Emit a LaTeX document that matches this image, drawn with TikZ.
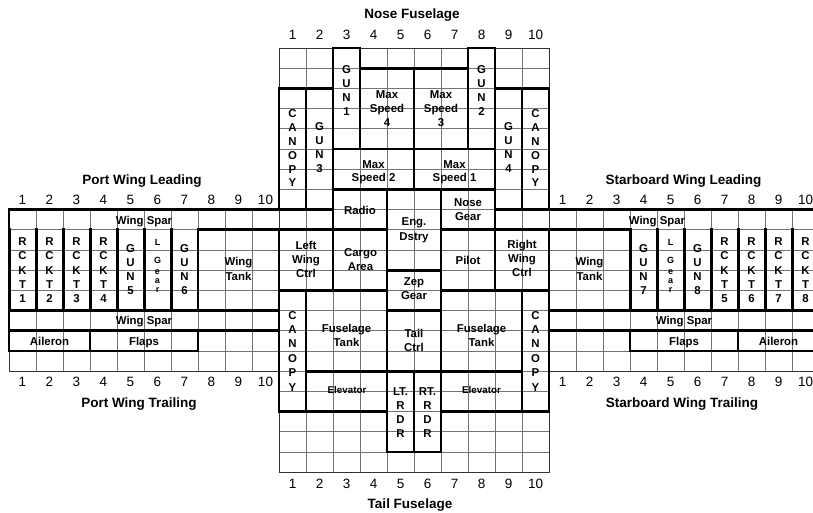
\documentclass[tikz,border=0pt]{standalone}
\usepackage{fontspec}
\setmainfont{Liberation Sans}
\newcommand\tbox[5]{\draw[thickbox] ({#1+27*#2},{48+20.2*#3}) rectangle ({#1+27*#4},{48+20.2*#5});}
\newcommand\vstk[5]{\foreach \ltr [count=\n from 0] in {#5} {\node[#1] at (#2,{#3+\n*#4}) {\ltr};}}
\begin{document}
\begin{tikzpicture}[x=1pt,y=-1pt,
  gridln/.style={draw=black!55,line width=0.9pt},
  edgeln/.style={draw=black!80,line width=0.9pt},
  thickbox/.style={draw=black,line width=2.8pt},
  lbl/.style={font=\fontsize{11.4}{13}\selectfont\bfseries,inner sep=0pt,text height=8.2pt,text depth=0pt},
  small/.style={font=\fontsize{9}{11}\selectfont\bfseries,inner sep=0pt,text height=6.5pt,text depth=0pt},
  elev/.style={font=\fontsize{9.8}{12}\selectfont\bfseries,inner sep=0pt,text height=7pt,text depth=0pt},
  num/.style={font=\fontsize{13.5}{16}\selectfont,inner sep=0pt,text height=9.7pt,text depth=0pt},
  ttl/.style={font=\fontsize{13.5}{16}\selectfont\bfseries,inner sep=0pt,text height=9.7pt,text depth=0pt}]
\useasboundingbox (0,0) rectangle (813,512);
\fill[white] (0,0) rectangle (813,512);
\clip (0,0) rectangle (813,512);
% ---------- thin grids ----------
\foreach \i in {0,...,10} {
  \draw[gridln] ({279+27*\i},48) -- ({279+27*\i},{48+21*20.2});
  \draw[gridln] ({9+27*\i},{48+8*20.2}) -- ({9+27*\i},{48+16*20.2});
  \draw[gridln] ({549+27*\i},{48+8*20.2}) -- ({549+27*\i},{48+16*20.2});
}
\foreach \k in {0,...,21} \draw[gridln] (279,{48+\k*20.2}) -- (549,{48+\k*20.2});
\foreach \k in {8,...,16} {
  \draw[gridln] (9,{48+\k*20.2}) -- (279,{48+\k*20.2});
  \draw[gridln] (549,{48+\k*20.2}) -- (819,{48+\k*20.2});
}
\draw[edgeln] (279,48) rectangle (549,{48+21*20.2});
\draw[edgeln] (9,{48+8*20.2}) rectangle (279,{48+16*20.2});
\draw[edgeln] (549,{48+8*20.2}) rectangle (819,{48+16*20.2});
% ---------- fuselage boxes ----------
\tbox{279}{2}{0}{3}{5}
\tbox{279}{3}{1}{5}{5}
\tbox{279}{5}{1}{7}{5}
\tbox{279}{7}{0}{8}{5}
\tbox{279}{0}{2}{1}{8}
\tbox{279}{1}{2}{2}{8}
\tbox{279}{8}{2}{9}{8}
\tbox{279}{9}{2}{10}{8}
\tbox{279}{2}{5}{5}{7}
\tbox{279}{5}{5}{8}{7}
\tbox{279}{2}{7}{4}{9}
\tbox{279}{4}{7}{6}{11}
\tbox{279}{6}{7}{8}{9}
\tbox{279}{0}{9}{2}{12}
\tbox{279}{2}{9}{4}{12}
\tbox{279}{6}{9}{8}{12}
\tbox{279}{8}{9}{10}{12}
\tbox{279}{4}{11}{6}{13}
\tbox{279}{0}{12}{1}{18}
\tbox{279}{1}{12}{4}{16}
\tbox{279}{4}{13}{6}{16}
\tbox{279}{6}{12}{9}{16}
\tbox{279}{9}{12}{10}{18}
\tbox{279}{1}{16}{4}{18}
\tbox{279}{4}{16}{5}{20}
\tbox{279}{5}{16}{6}{20}
\tbox{279}{6}{16}{9}{18}
% ---------- port wing ----------
\draw[thickbox] (9,{48+9*20.2}) -- (9,{48+8*20.2}) -- (279,{48+8*20.2});
\foreach \i in {0,...,6} {\tbox{9}{\i}{9}{\i+1}{13}}
\tbox{9}{7}{9}{10}{13}
\tbox{9}{0}{13}{10}{14}
\tbox{9}{0}{14}{3}{15}
\tbox{9}{3}{14}{7}{15}
% ---------- starboard wing ----------
\draw[thickbox] (549,{48+8*20.2}) -- (819,{48+8*20.2}) -- (819,{48+9*20.2});
\tbox{549}{0}{9}{3}{13}
\foreach \i in {3,...,9} {\tbox{549}{\i}{9}{\i+1}{13}}
\tbox{549}{0}{13}{10}{14}
\tbox{549}{3}{14}{7}{15}
\tbox{549}{7}{14}{10}{15}
% ---------- titles and numbers ----------
\node[ttl] (nose) at (412,13.3) {Nose Fuselage};
\node[ttl] (pwl) at (142,179.3) {Port Wing Leading};
\node[ttl] (swl) at (683.5,179.3) {Starboard Wing Leading};
\node[ttl] (pwt) at (139,403) {Port Wing Trailing};
\node[ttl] (swt) at (682,403) {Starboard Wing Trailing};
\node[ttl] (tail) at (410,503.3) {Tail Fuselage};
\foreach \i in {1,...,10} {
  \node[num] at ({265.5+27*\i},35) {\i};
  \node[num] at ({265.5+27*\i},483.3) {\i};
  \node[num] at ({-4.5+27*\i},199.3) {\i};
  \node[num] at ({535.5+27*\i},199.3) {\i};
  \node[num] at ({-4.5+27*\i},381.7) {\i};
  \node[num] at ({535.5+27*\i},381.7) {\i};
}
% ---------- fuselage labels ----------
\vstk{lbl}{346.5}{69}{14}{G,U,N,1}
\vstk{lbl}{481.5}{69}{14}{G,U,N,2}
\vstk{lbl}{387}{94.3}{14}{Max,Speed,4}
\vstk{lbl}{441}{94.3}{14}{Max,Speed,3}
\vstk{lbl}{292.5}{113.3}{13.9}{C,A,N,O,P,Y}
\vstk{lbl}{535.5}{113.3}{13.9}{C,A,N,O,P,Y}
\vstk{lbl}{319.5}{126.7}{13.9}{G,U,N,3}
\vstk{lbl}{508.5}{126.7}{13.9}{G,U,N,4}
\vstk{lbl}{373.5}{164}{13}{Max,Speed 2}
\vstk{lbl}{454.5}{164}{13}{Max,Speed 1}
\node[lbl] (radio) at (360,210) {Radio};
\vstk{lbl}{414}{221.7}{14.3}{Eng.,Dstry}
\vstk{lbl}{468}{202.7}{14}{Nose,Gear}
\vstk{lbl}{306}{245}{14}{Left,Wing,Ctrl}
\vstk{lbl}{360.5}{252.7}{14}{Cargo,Area}
\node[lbl] (pilot) at (468,260) {Pilot};
\vstk{lbl}{522}{244.5}{14}{Right,Wing,Ctrl}
\vstk{lbl}{414}{281.7}{14}{Zep,Gear}
\vstk{lbl}{292.5}{315}{14.4}{C,A,N,O,P,Y}
\vstk{lbl}{535.5}{315}{14.4}{C,A,N,O,P,Y}
\vstk{lbl}{346.5}{328.3}{14}{Fuselage,Tank}
\vstk{lbl}{481.5}{328.3}{14}{Fuselage,Tank}
\vstk{lbl}{414}{333.3}{14.4}{Tail,Ctrl}
\node[elev] (elevl) at (347,390) {Elevator};
\node[elev] (elevr) at (481.5,390) {Elevator};
\vstk{lbl}{400.5}{391.7}{13.9}{LT.,R,D,R}
\vstk{lbl}{427.5}{391.7}{13.9}{RT.,R,D,R}
% ---------- port wing labels ----------
\node[lbl] (pws1) at (144,220) {Wing Spar};
\node[lbl] (pws2) at (144,320.5) {Wing Spar};
\node[lbl] (pail) at (49.5,341) {Aileron};
\node[lbl] (pflp) at (144,341) {Flaps};
\vstk{lbl}{22.5}{241.7}{14.15}{R,C,K,T,1}
\vstk{lbl}{49.5}{241.7}{14.15}{R,C,K,T,2}
\vstk{lbl}{76.5}{241.7}{14.15}{R,C,K,T,3}
\vstk{lbl}{103.5}{241.7}{14.15}{R,C,K,T,4}
\vstk{lbl}{130.5}{248.3}{13.9}{G,U,N,5}
\vstk{lbl}{184.5}{248.3}{13.9}{G,U,N,6}
\vstk{lbl}{238.5}{261.7}{15}{Wing,Tank}
\node[small] at (157.5,242.7) {L};
\node[small] at (157.5,260.7) {G};
\node[small] at (157.5,271.7) {e};
\node[small] at (157.5,280.7) {a};
\node[small] at (157.5,289.7) {r};
% ---------- starboard wing labels ----------
\node[lbl] (sws1) at (657,220) {Wing Spar};
\node[lbl] (sws2) at (684,320.5) {Wing Spar};
\node[lbl] (sflp) at (684,341) {Flaps};
\node[lbl] (sail) at (778.5,341) {Aileron};
\vstk{lbl}{589.5}{261.7}{15}{Wing,Tank}
\vstk{lbl}{643.5}{248.3}{13.9}{G,U,N,7}
\vstk{lbl}{697.5}{248.3}{13.9}{G,U,N,8}
\vstk{lbl}{724.5}{241.7}{14.15}{R,C,K,T,5}
\vstk{lbl}{751.5}{241.7}{14.15}{R,C,K,T,6}
\vstk{lbl}{778.5}{241.7}{14.15}{R,C,K,T,7}
\vstk{lbl}{805.5}{241.7}{14.15}{R,C,K,T,8}
\node[small] at (670.5,242.7) {L};
\node[small] at (670.5,260.7) {G};
\node[small] at (670.5,271.7) {e};
\node[small] at (670.5,280.7) {a};
\node[small] at (670.5,289.7) {r};
\end{tikzpicture}
\end{document}
